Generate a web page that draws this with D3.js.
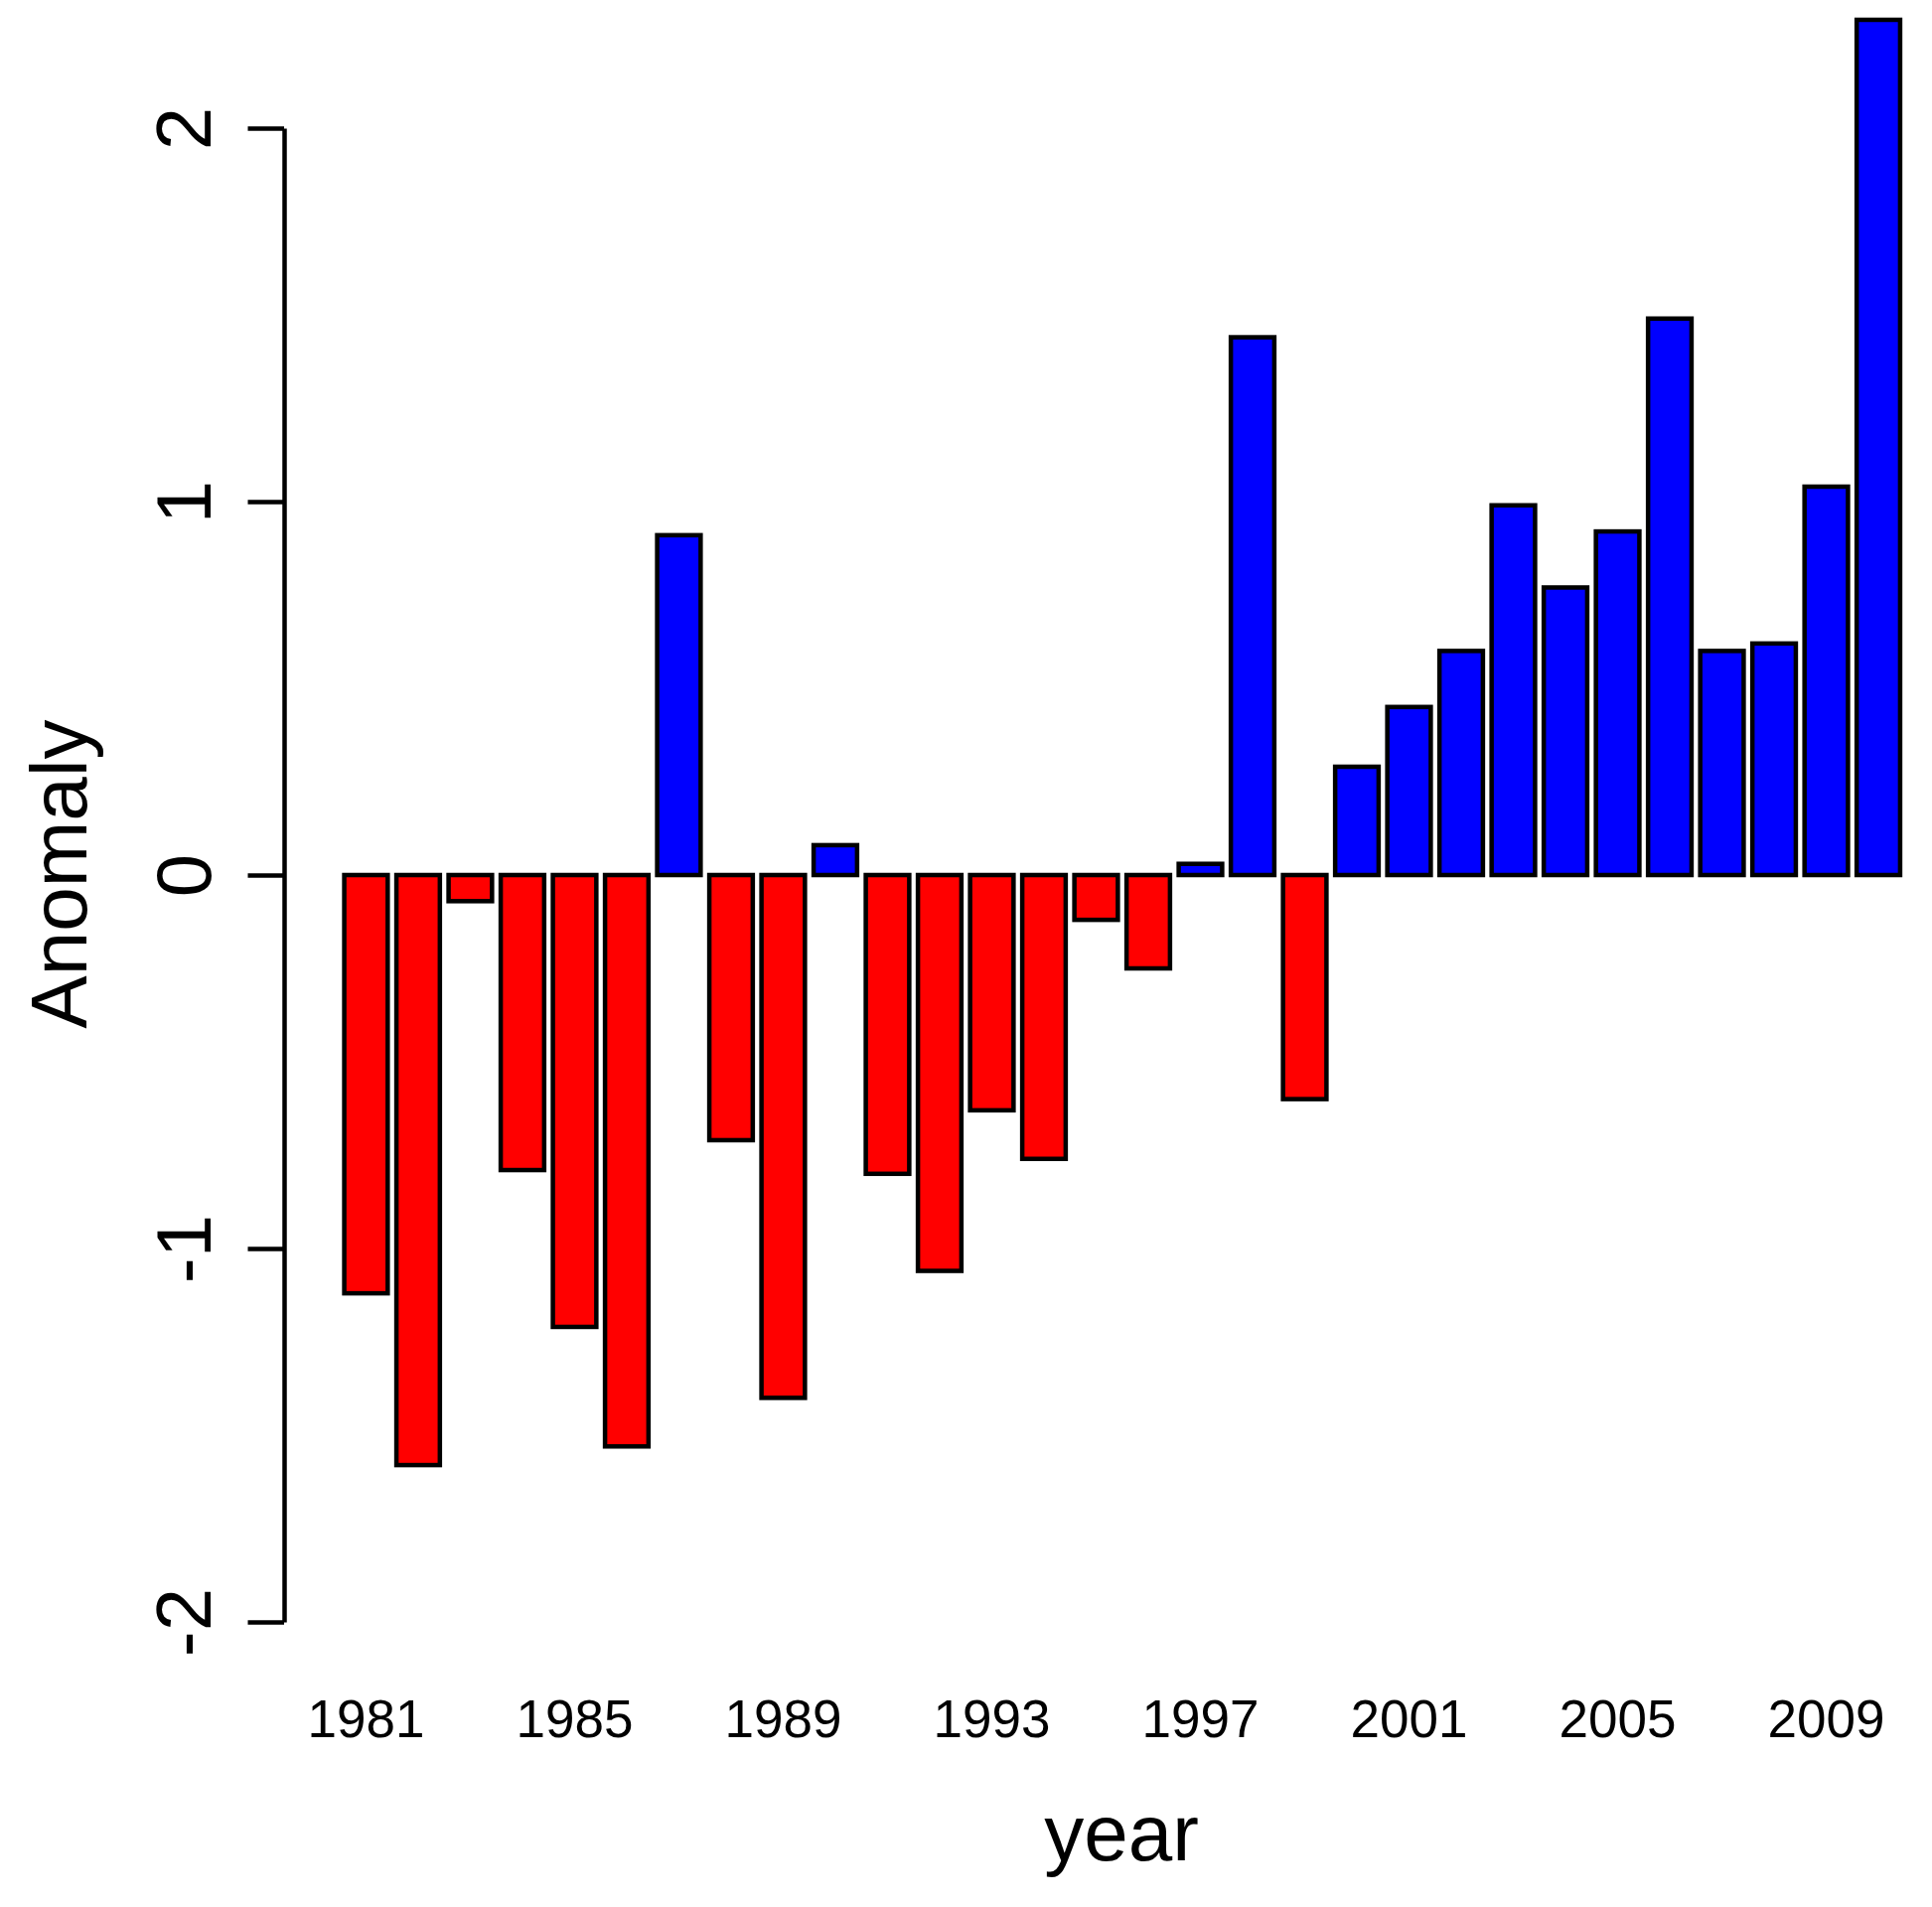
<!DOCTYPE html>
<html>
<head>
<meta charset="utf-8">
<script src="https://cdn.jsdelivr.net/npm/d3@7"></script>
<style>
    html, body { margin: 0; padding: 0; background: #ffffff; }
    text { font-family: "Liberation Sans", Arial, sans-serif; fill: #000000; }
</style>
</head>
<body>
<div id="chart"></div>
<script>
// yearly anomaly values
const years = d3.range(1981, 2011);
const anomaly = [
    -1.12, -1.58, -0.07, -0.79, -1.21, -1.53, 0.91, -0.71, -1.40, 0.08,
    -0.80, -1.06, -0.63, -0.76, -0.12, -0.25, 0.03, 1.44, -0.60, 0.29,
    0.45, 0.60, 0.99, 0.77, 0.92, 1.49, 0.60, 0.62, 1.04, 2.29
];
const yTicks = [-2, -1, 0, 1, 2];
const xLabels = [1981, 1985, 1989, 1993, 1997, 2001, 2005, 2009];

const data = years.map((yr, i) => ({year: yr, value: anomaly[i]}));

const width = 1945, height = 1920;

const svg = d3.select("#chart")
    .append("svg")
    .attr("width", width)
    .attr("height", height);

// scales (bar width 1, space 0.2 like R barplot)
const x = d3.scaleBand()
    .domain(years)
    .range([342.2, 1917.3])
    .paddingInner(0.2 / 1.2)
    .paddingOuter(0.1 / 1.2);

const y = d3.scaleLinear()
    .domain([-2, 2])
    .range([1633, 129]);

// bars
svg.append("g")
    .selectAll("rect")
    .data(data)
    .enter()
    .append("rect")
    .attr("x", d => x(d.year))
    .attr("width", x.bandwidth())
    .attr("y", d => y(Math.max(0, d.value)))
    .attr("height", d => Math.abs(y(d.value) - y(0)))
    .style("fill", d => d.value < 0 ? "#ff0000" : "#0000ff")
    .style("stroke", "#000000")
    .style("stroke-width", 4.5);

// y axis
const axisX = 286;
const yAxis = svg.append("g")
    .attr("transform", "translate(" + axisX + ",0)")
    .call(d3.axisLeft(y).tickValues(yTicks).tickSize(36.5).tickSizeOuter(0).tickFormat(d => String(d)));

yAxis.select(".domain").attr("stroke", "#000").attr("stroke-width", 4.5);
yAxis.selectAll(".tick line").attr("stroke", "#000").attr("stroke-width", 4.5);
yAxis.selectAll(".tick text")
    .attr("x", null)
    .attr("dy", null)
    .attr("text-anchor", "middle")
    .attr("transform", "translate(" + (212 - axisX) + ",0) rotate(-90)")
    .style("font-size", "78px")
    .style("font-family", "'Liberation Sans', Arial, sans-serif")
    .attr("fill", "#000");

// x labels (every 4th year)
svg.append("g")
    .selectAll("text")
    .data(xLabels)
    .enter()
    .append("text")
    .attr("x", d => x(d) + x.bandwidth() / 2)
    .attr("y", 1749)
    .attr("text-anchor", "middle")
    .style("font-size", "53px")
    .text(d => d);

// axis titles
svg.append("text")
    .attr("x", 1129)
    .attr("y", 1873)
    .attr("text-anchor", "middle")
    .style("font-size", "80px")
    .text("year");

svg.append("text")
    .attr("transform", "translate(87,880) rotate(-90)")
    .attr("text-anchor", "middle")
    .style("font-size", "80px")
    .text("Anomaly");
</script>
</body>
</html>
